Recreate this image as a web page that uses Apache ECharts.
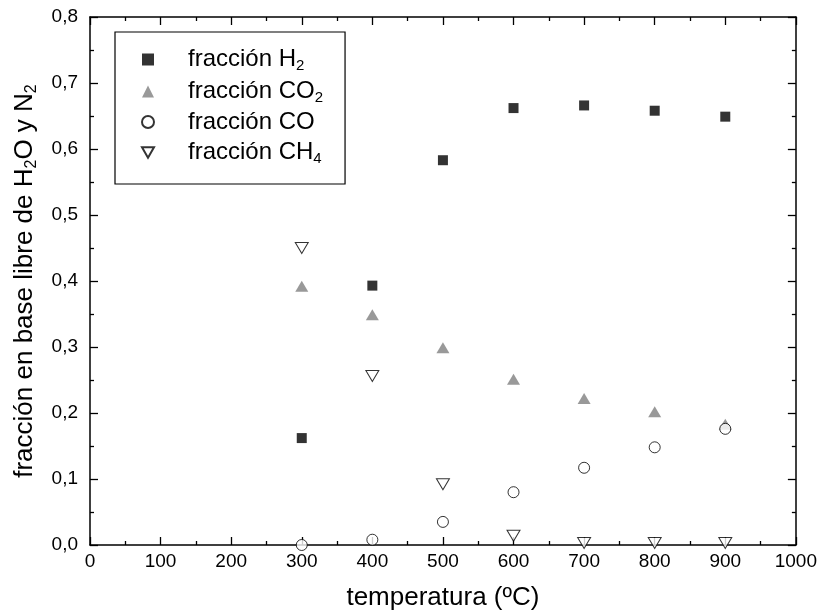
<!DOCTYPE html>
<html>
<head>
<meta charset="utf-8">
<script src="https://cdn.jsdelivr.net/npm/echarts@6/dist/echarts.min.js"></script>
<style>
  html, body { margin: 0; padding: 0; background: #fff; }
  #chart { width: 820px; height: 616px; }
</style>
</head>
<body>
<div id="chart"></div>
<script>
// Temperatures (ºC) at which each composition was computed
const temperatures = [300, 400, 500, 600, 700, 800, 900];

// Dry, N2-free molar fractions
const fracH2  = [0.162, 0.393, 0.583, 0.662, 0.666, 0.658, 0.649];
const fracCO2 = [0.392, 0.349, 0.299, 0.251, 0.222, 0.202, 0.183];
const fracCO  = [0.000, 0.008, 0.035, 0.080, 0.117, 0.148, 0.176];
const fracCH4 = [0.450, 0.256, 0.092, 0.014, 0.003, 0.003, 0.003];

const seriesNames = ['H2', 'CO2', 'CO', 'CH4'];
const legendLabels = {
  'H2':  'fracción H{sub|2}',
  'CO2': 'fracción CO{sub|2}',
  'CO':  'fracción CO',
  'CH4': 'fracción CH{sub|4}'
};

const xTicks = { min: 0, max: 1000, interval: 100 };
const yTicks = { min: 0, max: 0.8, interval: 0.1 };

const FONT = '"Liberation Sans", Arial, Helvetica, sans-serif';
const DOWN_TRIANGLE = 'path://M0,0L12,0L6,10.4Z';

function pairs(vals) {
  return temperatures.map((t, i) => [t, vals[i]]);
}

const axisLineStyle = { color: '#000', width: 1.5 };

function makeAxis(base, extra) {
  return Object.assign({
    type: 'value',
    axisLine: { show: true, onZero: false, lineStyle: axisLineStyle },
    axisTick: { show: true, inside: true, length: 8, lineStyle: { color: '#000', width: 1.3 } },
    minorTick: { show: true, splitNumber: 2, length: 4, lineStyle: { color: '#000', width: 1.3 } },
    splitLine: { show: false },
    minorSplitLine: { show: false }
  }, base, extra);
}

const chart = echarts.init(document.getElementById('chart'), null, { renderer: 'canvas' });

chart.setOption({
  backgroundColor: '#fff',
  animation: false,
  textStyle: { fontFamily: FONT },
  grid: { left: 90, right: 23, top: 17, bottom: 69, containLabel: false },
  xAxis: [
    makeAxis(xTicks, {
      position: 'bottom',
      name: 'temperatura (ºC)',
      nameLocation: 'middle',
      nameGap: 40,
      nameTextStyle: { fontSize: 26, color: '#000', fontFamily: FONT },
      axisLabel: { fontSize: 19, color: '#000', margin: 7, fontFamily: FONT, formatter: v => String(v) }
    }),
    makeAxis(xTicks, { position: 'top', axisLabel: { show: false } })
  ],
  yAxis: [
    makeAxis(yTicks, {
      position: 'left',
      name: 'fracción en base libre de H{sub|2}O y N{sub|2}',
      nameLocation: 'middle',
      nameGap: 50,
      nameTextStyle: {
        fontSize: 26, color: '#000', fontFamily: FONT,
        rich: { sub: { fontSize: 16, color: '#000', fontFamily: FONT, padding: [14, 0, 0, 0] } }
      },
      axisLabel: {
        fontSize: 19, color: '#000', margin: 12, fontFamily: FONT,
        formatter: v => v.toFixed(1).replace('.', ',')
      }
    }),
    makeAxis(yTicks, { position: 'right', axisLabel: { show: false } })
  ],
  legend: {
    orient: 'vertical',
    left: 115,
    top: 32,
    padding: [14, 22, 18, 26],
    itemWidth: 12,
    itemHeight: 12,
    itemGap: 5,
    borderColor: '#000',
    borderWidth: 1.2,
    borderRadius: 0,
    data: seriesNames,
    formatter: name => legendLabels[name],
    textStyle: {
      fontSize: 24, lineHeight: 24, color: '#000', fontFamily: FONT,
      padding: [0, 0, 0, 29],
      rich: { sub: { fontSize: 15, lineHeight: 24, color: '#000', fontFamily: FONT, padding: [12, 0, 0, 0] } }
    }
  },
  series: [
    {
      name: 'H2', type: 'scatter', data: pairs(fracH2),
      symbol: 'rect', symbolSize: 10,
      itemStyle: { color: '#000' }, z: 4
    },
    {
      name: 'CO2', type: 'scatter', data: pairs(fracCO2),
      symbol: 'triangle', symbolSize: [13, 11],
      itemStyle: { color: '#808080' }, z: 3
    },
    {
      name: 'CO', type: 'scatter', data: pairs(fracCO),
      symbol: 'circle', symbolSize: 11,
      itemStyle: { color: '#fff', borderColor: '#000', borderWidth: 1 }, z: 3
    },
    {
      name: 'CH4', type: 'scatter', data: pairs(fracCH4),
      symbol: DOWN_TRIANGLE, symbolSize: [13, 11],
      itemStyle: { color: '#fff', borderColor: '#000', borderWidth: 1 }, z: 3
    }
  ]
});
</script>
</body>
</html>
